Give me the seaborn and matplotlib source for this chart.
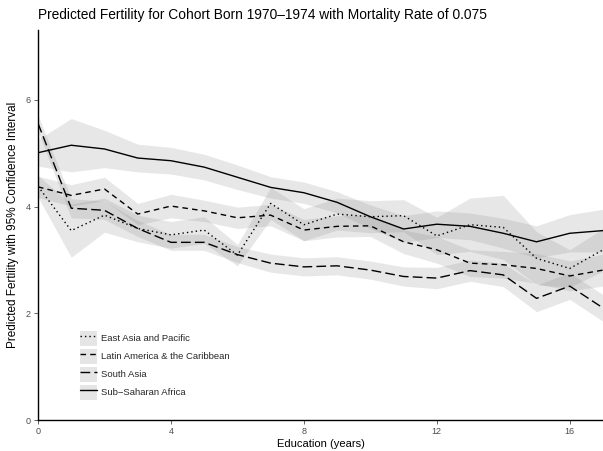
import numpy as np
import pandas as pd
import matplotlib
matplotlib.use("Agg")
import matplotlib.pyplot as plt
import seaborn as sns
from matplotlib.lines import Line2D
from matplotlib.patches import Patch, Rectangle
from matplotlib.legend_handler import HandlerTuple, HandlerPatch

education = list(range(18))
regions = ["East Asia and Pacific", "Latin America & the Caribbean",
           "South Asia", "Sub\u2212Saharan Africa"]

east_asia = [4.38, 3.55, 3.84, 3.59, 3.47, 3.56, 3.09, 4.06, 3.66, 3.86,
             3.81, 3.83, 3.45, 3.66, 3.61, 3.03, 2.84, 3.19]
east_asia_hw = [0.20, 0.50, 0.32, 0.25, 0.25, 0.25, 0.20, 0.30, 0.30, 0.30,
                0.30, 0.30, 0.35, 0.50, 0.60, 0.50, 0.35, 0.40]
latin = [4.37, 4.21, 4.33, 3.86, 4.01, 3.92, 3.79, 3.84, 3.56, 3.63,
         3.64, 3.34, 3.19, 2.94, 2.91, 2.84, 2.70, 2.81]
latin_hw = [0.20, 0.20, 0.22, 0.20, 0.22, 0.20, 0.20, 0.20, 0.20, 0.20,
            0.20, 0.22, 0.25, 0.25, 0.25, 0.28, 0.28, 0.30]
south_asia = [5.56, 3.97, 3.93, 3.59, 3.33, 3.33, 3.10, 2.94, 2.87, 2.89,
              2.81, 2.69, 2.66, 2.80, 2.72, 2.28, 2.51, 2.10]
south_asia_hw = [0.15, 0.18, 0.17, 0.15, 0.15, 0.15, 0.15, 0.17, 0.17, 0.17,
                 0.17, 0.18, 0.20, 0.20, 0.22, 0.25, 0.25, 0.25]
ssa = [5.01, 5.15, 5.08, 4.91, 4.86, 4.74, 4.55, 4.36, 4.26, 4.08,
       3.81, 3.58, 3.67, 3.63, 3.50, 3.34, 3.50, 3.55]
ssa_hw = [0.25, 0.50, 0.35, 0.26, 0.25, 0.24, 0.23, 0.20, 0.20, 0.20,
          0.22, 0.25, 0.25, 0.25, 0.28, 0.30, 0.35, 0.40]

means = [east_asia, latin, south_asia, ssa]
halfw = [east_asia_hw, latin_hw, south_asia_hw, ssa_hw]

rows = []
for reg, m, h in zip(regions, means, halfw):
    for e, v, w in zip(education, m, h):
        rows.append({"edu": e, "fert": v, "lo": v - w, "hi": v + w, "region": reg})
df = pd.DataFrame(rows)

dashes = {regions[0]: (1, 2.2), regions[1]: (4, 3), regions[2]: (7, 3), regions[3]: ""}

sns.set_theme(style="white")
plt.rcParams["font.family"] = ["Liberation Sans", "DejaVu Sans"]

fig = plt.figure(figsize=(6.03, 4.51), dpi=100)
ax = fig.add_axes([38 / 603, 31 / 451, 1 - 38 / 603, (420 - 30) / 451])

band_color = "#7f7f7f"
for reg in regions:
    d = df[df.region == reg]
    ax.fill_between(d.edu, d.lo, d.hi, color=band_color, alpha=0.18, linewidth=0)

sns.lineplot(data=df, x="edu", y="fert", style="region", dashes=dashes,
             color="black", linewidth=1.0, legend=False, ax=ax)

ax.set_xlim(0, 17)
ax.set_ylim(0, 7.31)
ax.set_xticks([0, 4, 8, 12, 16])
ax.set_yticks([0, 2, 4, 6])
for s in ["top", "right"]:
    ax.spines[s].set_visible(False)
for s in ["left", "bottom"]:
    ax.spines[s].set_color("black")
    ax.spines[s].set_linewidth(1.0)
ax.tick_params(axis="both", which="both", length=3, width=0.6, color="#4d4d4d",
               labelsize=6.5, labelcolor="#4d4d4d", direction="out",
               bottom=True, left=True, pad=2)
ax.set_xlabel("Education (years)", fontsize=8, color="black", labelpad=2)
ax.set_ylabel("Predicted Fertility with 95% Confidence Interval", fontsize=8.5,
              color="black", labelpad=5)
fig.text(38 / 603, 1 - 15 / 451,
         "Predicted Fertility for Cohort Born 1970\u20131974 with Mortality Rate of 0.075",
         fontsize=9.9, ha="left", va="center", color="black")


def key_box(legend, orig_handle, xdescent, ydescent, width, height, fontsize):
    extra = 0.6
    return Rectangle((-xdescent, -ydescent - extra), width, height + 2 * extra)


handles = []
for reg in regions:
    p = Patch(facecolor="#e5e5e5", edgecolor="none")
    ls = (0, dashes[reg]) if dashes[reg] else "-"
    l = Line2D([], [], color="black", linewidth=1.0, linestyle=ls)
    handles.append((p, l))
leg = ax.legend(handles, regions,
                handler_map={tuple: HandlerTuple(ndivide=1, pad=0),
                             Patch: HandlerPatch(patch_func=key_box)},
                loc="lower left", bbox_to_anchor=(0.063, 0.037), frameon=False,
                fontsize=6.8, handlelength=1.8, handleheight=1.8,
                labelspacing=0.5, handletextpad=0.45, borderpad=0.2)

fig.savefig("out.png", dpi=100)
